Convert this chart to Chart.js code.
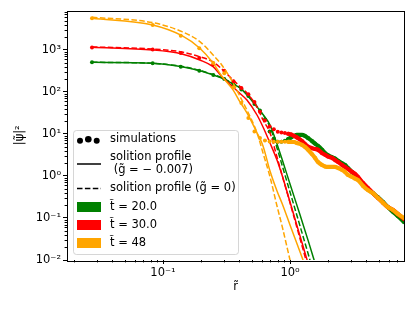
<!DOCTYPE html>
<html>
<head>
<meta charset="utf-8">
<script src="https://cdn.jsdelivr.net/npm/chart.js@4.4.1/dist/chart.umd.min.js"></script>
<style>
  html, body { margin: 0; padding: 0; background: #fff; }
</style>
</head>
<body>
<canvas id="solitonChart" width="415" height="312"></canvas>
<script>
// radii of the simulation samples
const rSim = [0.0276, 0.0829, 0.138, 0.193, 0.249, 0.304, 0.359, 0.414, 0.470, 0.525,
  0.580, 0.635, 0.691, 0.746, 0.801, 0.856, 0.911, 0.967, 1.022, 1.077, 1.132, 1.243,
  1.312, 1.386, 1.49, 1.573, 1.662, 1.786, 1.887, 1.992, 2.14, 2.26, 2.39, 2.57, 2.71,
  2.86, 3.08, 3.25, 3.43, 3.76, 4.11, 4.50, 4.93, 5.40, 5.91, 6.47, 7.08, 7.90];

// simulated density at t = 20, 30, 48
const simT20 = [510, 480, 400, 320, 254, 205, 150, 115, 80, 52, 36, 22, 11.5, 7.8, 6.5, 6.5,
  6.9, 7.6, 8.3, 9.0, 9.5, 9.5, 9.0, 8.0, 6.8, 5.9, 5.2, 4.2, 3.5, 3.1, 2.8, 2.6, 2.3, 2.0,
  1.83, 1.55, 1.25, 1.06, 0.90, 0.65, 0.49, 0.39, 0.31, 0.24, 0.18, 0.14, 0.11, 0.08];
const simT30 = [1150, 1020, 850, 640, 460, 320, 180, 125, 88, 58, 34, 21, 15, 13, 11.3, 10.9,
  10.6, 10.1, 9.7, 9.0, 8.3, 6.8, 5.8, 5.0, 4.6, 4.4, 4.2, 3.5, 3.2, 2.9, 2.7, 2.4, 2.15,
  1.83, 1.64, 1.47, 1.25, 1.12, 0.95, 0.68, 0.52, 0.39, 0.30, 0.23, 0.18, 0.155, 0.124, 0.095];
const simT48 = [5690, 3940, 2190, 1100, 490, 280, 130, 55, 24, 11.5, 8.0, 7.0, 6.6, 6.5, 6.5,
  6.5, 6.5, 6.5, 6.45, 6.45, 6.1, 5.5, 4.9, 4.2, 3.3, 2.7, 2.15, 1.83, 1.68, 1.64, 1.64, 1.64,
  1.55, 1.39, 1.25, 1.06, 0.95, 0.87, 0.80, 0.58, 0.46, 0.39, 0.30, 0.23, 0.18, 0.155, 0.124, 0.10];

// radii where the soliton profiles were read
const rProf = [0.0276, 0.083, 0.141, 0.195, 0.248, 0.29, 0.356, 0.404, 0.458, 0.55, 0.613,
  0.696, 0.79, 0.87, 1.0, 1.2, 1.4, 1.6];

// soliton profile, g = -0.007 (solid) and g = 0 (dashed)
const solidT20 = [510, 482, 400, 321, 254, 215, 155, 125, 85, 44, 29, 16.4, 5.8, 2.4, 0.645, 0.118, 0.027, 0.0072];
const dashT20 = [510, 480, 405, 325, 260, 220, 158, 127, 88, 45, 28.5, 14.7, 4.64, 1.73, 0.416, 0.064, 0.013, 0.0032];
const solidT30 = [1160, 1000, 803, 578, 400, 234, 131, 92, 64.5, 28.3, 14.7, 6.1, 2.4, 1.0, 0.24, 0.037, 0.0076, 0.0019];
const dashT30 = [1180, 1056, 896, 690, 518, 353, 193, 135, 95, 44, 21.5, 10.6, 2.83, 1.0, 0.23, 0.032, 0.0061, 0.0015];
const solidT48 = [5690, 3940, 2190, 1100, 490, 240, 112, 58, 31.6, 10.6, 5.2, 1.31, 0.44, 0.215, 0.068, 0.0155, 0.0044, 0.0015];
const dashT48 = [6010, 4470, 2730, 1580, 760, 440, 164, 78, 37, 10.6, 3.53, 0.95, 0.193, 0.061, 0.01, 0.00106, 0.00014, 0.000027];

const xMajor = [0.1, 1];
const yMajor = [0.01, 0.1, 1, 10, 100, 1000];
const decades = [0.01, 0.1, 1, 10, 100, 1000];

const colT20 = '#008000';
const colT30 = '#ff0000';
const colT48 = '#ffa500';

const font = '"DejaVu Sans", sans-serif';

function pts(xs, ys) {
  return xs.map((x, i) => ({ x: x, y: ys[i] }));
}

function supLabel(v) {
  const sup = { '-': '\u207B', '0': '\u2070', '1': '\u00B9', '2': '\u00B2', '3': '\u00B3' };
  const e = String(Math.round(Math.log10(v)));
  return '10' + e.split('').map(c => sup[c]).join('');
}

function simSet(data, color) {
  return {
    data: pts(rSim, data),
    borderColor: color,
    backgroundColor: color,
    borderWidth: 4.2,
    borderCapStyle: 'round',
    borderJoinStyle: 'round',
    pointRadius: 2,
    pointBorderWidth: 0,
    pointBackgroundColor: color,
    cubicInterpolationMode: 'monotone',
    // only the dense outer part is drawn as a band, the inner samples stay dots
    segment: { borderColor: c => c.p0.parsed.x > 0.95 ? color : 'rgba(0,0,0,0)' }
  };
}

function profSet(data, color, dashed) {
  return {
    data: pts(rProf, data),
    borderColor: color,
    borderWidth: 1.5,
    borderDash: dashed ? [5.5, 2.4] : [],
    pointRadius: 0,
    cubicInterpolationMode: 'monotone'
  };
}

// first dataset ends up on top
const datasets = [
  profSet(dashT48, colT48, true), profSet(solidT48, colT48, false), simSet(simT48, colT48),
  profSet(dashT30, colT30, true), profSet(solidT30, colT30, false), simSet(simT30, colT30),
  profSet(dashT20, colT20, true), profSet(solidT20, colT20, false), simSet(simT20, colT20)
];

const legendRows = [
  { kind: 'dots', text: ['simulations'] },
  { kind: 'solid', text: ['solition profile', ' (g\u0303 = \u2212 0.007)'] },
  { kind: 'dash', text: ['solition profile (g\u0303 = 0)'] },
  { kind: 'patch', color: colT20, text: ['t\u0303 = 20.0'] },
  { kind: 'patch', color: colT30, text: ['t\u0303 = 30.0'] },
  { kind: 'patch', color: colT48, text: ['t\u0303 = 48'] }
];
const legendRowY = [9.5, 34, 58.5, 77, 95, 113];

const framePlugin = {
  id: 'framePlugin',
  afterDraw(chart) {
    const { ctx, chartArea: a, scales } = chart;
    ctx.save();
    ctx.strokeStyle = '#000';
    ctx.lineWidth = 1;
    // minor ticks
    ctx.beginPath();
    decades.forEach(d => {
      for (let m = 2; m <= 9; m++) {
        const v = d * m;
        if (v > scales.x.min && v < scales.x.max) {
          const px = Math.round(scales.x.getPixelForValue(v)) + 0.5;
          ctx.moveTo(px, a.bottom);
          ctx.lineTo(px, a.bottom + 2.4);
        }
        if (v > scales.y.min && v < scales.y.max) {
          const py = Math.round(scales.y.getPixelForValue(v)) + 0.5;
          ctx.moveTo(a.left, py);
          ctx.lineTo(a.left - 2.4, py);
        }
      }
    });
    ctx.stroke();
    ctx.strokeRect(Math.round(a.left) + 0.5, Math.round(a.top) + 0.5,
      Math.round(a.right - a.left), Math.round(a.bottom - a.top));

    // legend box
    const x0 = a.left + 6, w = 165, h = 124;
    const y0 = a.bottom - 6 - h;
    ctx.beginPath();
    ctx.roundRect(x0 + 0.5, y0 + 0.5, w, h, 3);
    ctx.fillStyle = 'rgba(255,255,255,0.8)';
    ctx.fill();
    ctx.strokeStyle = 'rgba(204,204,204,0.8)';
    ctx.stroke();

    ctx.font = '11.5px ' + font;
    ctx.textBaseline = 'middle';
    legendRows.forEach((row, i) => {
      const cy = y0 + legendRowY[i];
      const hx = x0 + 4;
      if (row.kind === 'dots') {
        ctx.fillStyle = '#000';
        [[7, 1.2, 3], [15.3, -0.2, 3.3], [23.7, 1.2, 3]].forEach(d => {
          ctx.beginPath();
          ctx.arc(x0 + d[0], cy + d[1], d[2], 0, Math.PI * 2);
          ctx.fill();
        });
      } else if (row.kind === 'solid' || row.kind === 'dash') {
        ctx.strokeStyle = '#000';
        ctx.lineWidth = 1.5;
        ctx.setLineDash(row.kind === 'dash' ? [5.5, 2.4] : []);
        ctx.beginPath();
        ctx.moveTo(hx, cy);
        ctx.lineTo(hx + 24, cy);
        ctx.stroke();
        ctx.setLineDash([]);
      } else {
        ctx.fillStyle = row.color;
        ctx.fillRect(hx, cy - 5, 24, 10);
      }
      ctx.fillStyle = '#000';
      if (row.text.length === 1) {
        ctx.fillText(row.text[0], x0 + 37, cy);
      } else {
        ctx.fillText(row.text[0], x0 + 37, cy - 7);
        ctx.fillText(row.text[1], x0 + 37, cy + 6.5);
      }
    });
    ctx.restore();
  }
};

const ctx = document.getElementById('solitonChart').getContext('2d');
new Chart(ctx, {
  type: 'line',
  data: { datasets: datasets },
  options: {
    responsive: false,
    animation: false,
    events: [],
    layout: { padding: { left: 0, right: 11, top: 10.5, bottom: 0 } },
    plugins: { legend: { display: false }, tooltip: { enabled: false } },
    scales: {
      x: {
        type: 'logarithmic',
        min: 0.01754,
        max: 7.9,
        afterFit: s => { s.height = 52; },
        afterBuildTicks: s => { s.ticks = xMajor.map(v => ({ value: v })); },
        border: { display: false },
        grid: { display: true, drawOnChartArea: false, drawTicks: true, tickLength: 4, color: '#000', lineWidth: 1 },
        ticks: {
          autoSkip: false, maxRotation: 0, padding: 2, color: '#000',
          font: { family: font, size: 11.5 },
          callback: v => supLabel(v)
        },
        title: {
          display: true, text: 'r\u0303', color: '#000',
          font: { family: font, size: 11.5 },
          padding: { top: 0, bottom: 18 }
        }
      },
      y: {
        type: 'logarithmic',
        min: 0.01,
        max: 8700,
        afterFit: s => { s.width = 67; },
        afterBuildTicks: s => { s.ticks = yMajor.map(v => ({ value: v })); },
        border: { display: false },
        grid: { display: true, drawOnChartArea: false, drawTicks: true, tickLength: 4, color: '#000', lineWidth: 1 },
        ticks: {
          autoSkip: false, padding: 2, color: '#000',
          font: { family: font, size: 11.5 },
          callback: v => supLabel(v)
        },
        title: {
          display: true, text: '|\u03C8\u0303|\u00B2', color: '#000',
          font: { family: font, size: 11.5 },
          padding: { top: 13, bottom: 0 }
        }
      }
    }
  },
  plugins: [framePlugin]
});
</script>
</body>
</html>
